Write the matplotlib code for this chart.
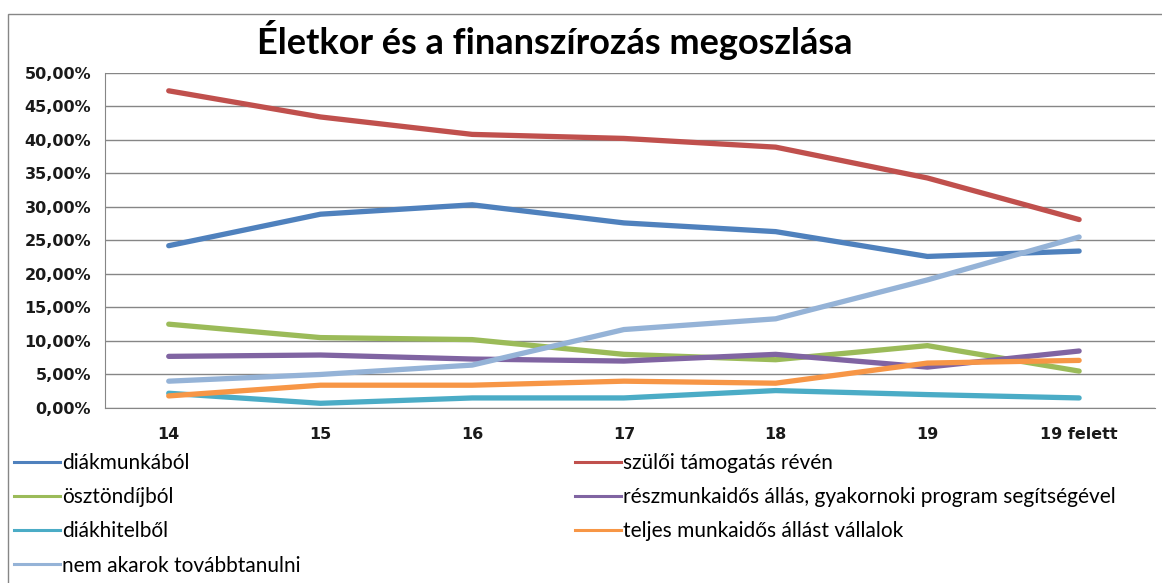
import matplotlib
matplotlib.use("Agg")
import matplotlib.pyplot as plt
from matplotlib.lines import Line2D
from matplotlib.patches import Rectangle
from matplotlib.ticker import FuncFormatter

# Categories (age groups)
ages = ["14", "15", "16", "17", "18", "19", "19 felett"]

# Series values in percent
diakmunka = [24.2, 28.9, 30.3, 27.6, 26.3, 22.6, 23.4]
szuloi = [47.3, 43.4, 40.8, 40.2, 38.9, 34.3, 28.1]
osztondij = [12.5, 10.5, 10.2, 8.0, 7.2, 9.3, 5.5]
reszmunka = [7.7, 7.9, 7.3, 7.0, 8.0, 6.1, 8.5]
diakhitel = [2.2, 0.7, 1.5, 1.5, 2.6, 2.0, 1.5]
teljes = [1.8, 3.4, 3.4, 4.0, 3.7, 6.7, 7.1]
nem_tanul = [4.0, 5.0, 6.4, 11.7, 13.3, 19.1, 25.5]

series = [
    ("diákmunkából", diakmunka, "#4F81BD"),
    ("szülői támogatás révén", szuloi, "#C0504D"),
    ("ösztöndíjból", osztondij, "#9BBB59"),
    ("részmunkaidős állás, gyakornoki program segítségével", reszmunka, "#8064A2"),
    ("diákhitelből", diakhitel, "#4BACC6"),
    ("teljes munkaidős állást vállalok", teljes, "#F79646"),
    ("nem akarok továbbtanulni", nem_tanul, "#95B3D7"),
]

fig = plt.figure(figsize=(11.62, 5.83), dpi=100)
ax = fig.add_axes([105 / 1162, 1 - 408 / 583, (1155 - 105) / 1162, (408 - 72.7) / 583])

x = range(len(ages))
for name, vals, col in series:
    ax.plot(x, vals, color=col, lw=3.8, solid_capstyle="round", solid_joinstyle="round")

ax.set_xlim(-0.42, len(ages) - 0.5)
ax.set_ylim(0, 50)
ax.set_yticks(range(0, 51, 5))
ax.yaxis.set_major_formatter(FuncFormatter(lambda v, p: f"{v:.2f}".replace(".", ",") + "%"))
ax.set_xticks(list(x))
ax.set_xticklabels(ages)
ax.grid(axis="y", color="#868686", lw=1)
ax.set_axisbelow(True)
for s in ["top", "right"]:
    ax.spines[s].set_visible(False)
for s in ["left", "bottom"]:
    ax.spines[s].set_color("#868686")
ax.tick_params(length=0, labelsize=11.5, pad=10)
ax.tick_params(axis="x", pad=14)
for lab in ax.get_xticklabels() + ax.get_yticklabels():
    lab.set_fontweight("bold")
    lab.set_color("#1a1a1a")

fig.text(555 / 1162, 1 - 40 / 583, "Életkor és a finanszírozás megoszlása",
         ha="center", va="center", fontsize=26, fontweight="bold", family="Lato")

# outer chart frame
fig.patches.append(Rectangle((8 / 1162, -0.1), 1.2, 1 - 14 / 583 + 0.1,
                             transform=fig.transFigure, fill=False,
                             edgecolor="#868686", lw=1))

h = {name: Line2D([], [], color=col, lw=2.2) for name, vals, col in series}
left_names = [series[i][0] for i in (0, 2, 4, 6)]
right_names = [series[i][0] for i in (1, 3, 5)]
leg_kw = dict(frameon=False, handlelength=2.2, handletextpad=0.1,
              labelspacing=0.68, borderaxespad=0, borderpad=0,
              prop={"family": "Lato", "size": 15})
fig.legend([h[n] for n in left_names], left_names, loc="upper left",
           bbox_to_anchor=(14 / 1162, 1 - 453 / 583), **leg_kw)
fig.legend([h[n] for n in right_names], right_names, loc="upper left",
           bbox_to_anchor=(575 / 1162, 1 - 453 / 583), **leg_kw)

fig.savefig("out.png", dpi=100)
